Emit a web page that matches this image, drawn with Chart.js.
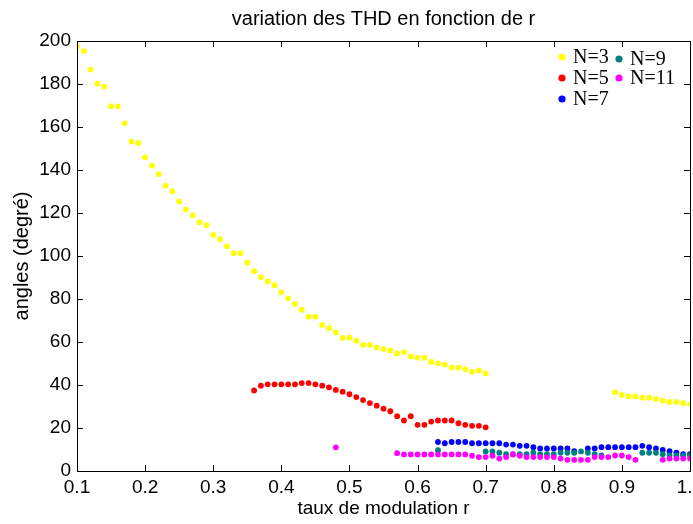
<!DOCTYPE html>
<html>
<head>
<meta charset="utf-8">
<script src="https://cdn.jsdelivr.net/npm/chart.js@4/dist/chart.umd.min.js"></script>
<style>
  html, body { margin: 0; padding: 0; background: #fff; }
  #wrap { width: 693px; height: 524px; }
</style>
</head>
<body>
<div id="wrap"><canvas id="c" width="693" height="524"></canvas></div>
<script>
// Modulation rate r and THD angle (degrees) for each N
const n3R = [0.10,0.11,0.12,0.13,0.14,0.15,0.16,0.17,0.18,0.19,0.20,0.21,0.22,0.23,0.24,0.25,0.26,0.27,0.28,0.29,
             0.30,0.31,0.32,0.33,0.34,0.35,0.36,0.37,0.38,0.39,0.40,0.41,0.42,0.43,0.44,0.45,0.46,0.47,0.48,0.49,
             0.50,0.51,0.52,0.53,0.54,0.55,0.56,0.57,0.58,0.59,0.60,0.61,0.62,0.63,0.64,0.65,0.66,0.67,0.68,0.69,0.70,
             0.89,0.90,0.91,0.92,0.93,0.94,0.95,0.96,0.97,0.98,0.99,1.00];
const n3Deg = [197.4,195.3,186.7,180.2,178.8,169.6,169.6,161.7,153.2,152.6,145.9,142.0,138.1,132.7,130.1,125.4,121.6,118.9,115.7,114.3,
               109.8,107.8,104.5,101.3,101.3,96.9,92.9,90.2,88.2,86.4,83.1,80.3,77.7,75.0,71.8,71.8,67.9,66.5,64.5,61.9,
               62.0,60.6,58.7,58.7,57.4,56.7,56.1,54.7,55.3,53.3,52.7,52.7,50.7,50.1,49.5,48.1,48.1,47.4,46.2,46.8,45.4,
               36.6,35.4,34.7,34.7,34.1,34.1,33.5,32.7,32.1,32.1,31.6,31.0];

const n5R = [0.36,0.37,0.38,0.39,0.40,0.41,0.42,0.43,0.44,0.45,0.46,0.47,0.48,0.49,0.50,0.51,0.52,0.53,
             0.54,0.55,0.56,0.57,0.58,0.59,0.60,0.61,0.62,0.63,0.64,0.65,0.66,0.67,0.68,0.69,0.70];
const n5Deg = [37.5,39.7,40.3,40.3,40.3,40.3,40.3,40.9,40.9,40.3,39.7,38.9,37.7,36.9,35.7,34.4,33.0,31.6,
               30.4,29.0,27.8,25.5,23.5,25.5,21.5,21.5,23.0,23.5,23.5,23.5,22.2,21.5,21.0,21.0,20.3];

const n7R = [0.63,0.64,0.65,0.66,0.67,0.68,0.69,0.70,0.71,0.72,0.73,0.74,0.75,0.76,0.77,0.78,0.79,0.80,0.81,0.82,0.83,
             0.85,0.86,0.87,0.88,0.89,0.90,0.91,0.92,0.93,0.94,0.95,0.96,0.97,0.98,0.99,1.00];
const n7Deg = [13.5,12.9,13.5,13.5,13.5,12.9,12.9,12.9,12.9,12.9,12.3,12.3,11.7,11.7,11.1,10.5,10.5,10.5,10.5,10.5,9.2,
               10.5,10.5,11.1,11.1,11.1,11.1,11.1,11.1,11.7,11.1,10.5,9.8,9.2,8.5,7.8,7.8];

const n9R = [0.63,0.70,0.71,0.72,0.73,0.74,0.75,0.76,0.77,0.78,0.79,0.80,0.81,0.82,0.83,0.84,0.85,0.86,0.87,
             0.93,0.94,0.95,0.96,0.97,0.98,0.99,1.00];
const n9Deg = [9.7,9.1,9.1,8.5,7.8,7.8,7.8,7.8,8.5,7.8,7.8,7.8,8.5,8.5,8.5,9.1,8.5,7.8,7.2,
               8.5,8.5,8.5,7.8,7.2,7.2,7.2,7.2];

const n11R = [0.48,0.57,0.58,0.59,0.60,0.61,0.62,0.63,0.64,0.65,0.66,0.67,0.68,0.69,0.70,0.71,0.72,0.73,0.74,0.75,
              0.76,0.77,0.78,0.79,0.80,0.81,0.82,0.83,0.84,0.85,0.86,0.87,0.88,0.89,0.90,0.91,0.92,
              0.96,0.97,0.98,0.99,1.00];
const n11Deg = [11.0,8.3,7.7,7.7,7.7,7.7,7.7,7.7,7.7,7.7,7.7,7.7,7.1,6.5,6.5,7.1,5.8,6.5,7.7,7.1,
                6.5,6.5,6.5,6.5,6.5,5.8,5.2,5.2,5.2,5.2,6.5,6.5,6.5,7.2,7.2,6.5,5.2,
                5.2,5.8,5.8,5.8,5.8];

const xTicksStep = 0.1;
const yTicksStep = 20;

function pts(rs, ds) { return rs.map((r, i) => ({ x: r, y: ds[i] })); }

const series = [
  { label: 'N=3',  r: n3R,  d: n3Deg,  color: '#ffff00', order: 4 },
  { label: 'N=5',  r: n5R,  d: n5Deg,  color: '#ff0000', order: 3 },
  { label: 'N=7',  r: n7R,  d: n7Deg,  color: '#0000ff', order: 2 },
  { label: 'N=9',  r: n9R,  d: n9Deg,  color: '#008080', order: 1 },
  { label: 'N=11', r: n11R, d: n11Deg, color: '#ff00ff', order: 0 }
];

const FONT_SANS = '"Liberation Sans", Arial, sans-serif';
const FONT_SERIF = '"Liberation Serif", "Times New Roman", serif';

// Box around the plot area with inward tick marks on all four sides
const framePlugin = {
  id: 'frame',
  afterDraw(chart) {
    const { ctx, chartArea: a, scales } = chart;
    const len = 6;
    ctx.save();
    ctx.strokeStyle = '#000';
    ctx.lineWidth = 1;
    ctx.beginPath();
    scales.x.ticks.forEach(t => {
      const px = Math.round(scales.x.getPixelForValue(t.value)) + 0.5;
      ctx.moveTo(px, a.bottom); ctx.lineTo(px, a.bottom - len);
      ctx.moveTo(px, a.top); ctx.lineTo(px, a.top + len);
    });
    scales.y.ticks.forEach(t => {
      const py = Math.round(scales.y.getPixelForValue(t.value)) + 0.5;
      ctx.moveTo(a.left, py); ctx.lineTo(a.left + len, py);
      ctx.moveTo(a.right, py); ctx.lineTo(a.right - len, py);
    });
    ctx.stroke();
    ctx.strokeRect(Math.round(a.left) + 0.5, Math.round(a.top) + 0.5,
                   Math.round(a.right - a.left), Math.round(a.bottom - a.top));
    ctx.restore();
  }
};

// Two-column legend in the upper right corner of the plot
const legendPlugin = {
  id: 'cornerLegend',
  afterDraw(chart) {
    const { ctx } = chart;
    const cols = [
      { dotX: 562, textX: 573, rows: [0, 1, 2], ys: [57, 78, 99] },
      { dotX: 619, textX: 630, rows: [3, 4], ys: [59, 78] }
    ];
    ctx.save();
    ctx.font = '20px ' + FONT_SERIF;
    ctx.textBaseline = 'middle';
    ctx.textAlign = 'left';
    cols.forEach(c => {
      c.rows.forEach((di, k) => {
        const ds = chart.data.datasets[di];
        ctx.fillStyle = ds.backgroundColor;
        ctx.beginPath();
        ctx.arc(c.dotX, c.ys[k], 3.6, 0, Math.PI * 2);
        ctx.fill();
        ctx.fillStyle = '#000';
        ctx.fillText(ds.label, c.textX, c.ys[k] + 1);
      });
    });
    ctx.restore();
  }
};

new Chart(document.getElementById('c'), {
  type: 'scatter',
  data: {
    datasets: series.map(s => ({
      label: s.label,
      data: pts(s.r, s.d),
      backgroundColor: s.color,
      borderWidth: 0,
      pointRadius: 2.9,
      pointHoverRadius: 2.9,
      order: s.order
    }))
  },
  options: {
    responsive: false,
    animation: false,
    events: [],
    layout: { padding: { left: 0, right: 3, top: 0, bottom: 0 } },
    plugins: {
      legend: { display: false },
      tooltip: { enabled: false },
      title: {
        display: true,
        fullSize: false,
        text: 'variation des THD en fonction de r',
        color: '#000',
        font: { family: FONT_SANS, size: 20, weight: 'normal' },
        padding: { top: 7, bottom: 10 }
      }
    },
    scales: {
      x: {
        type: 'linear',
        min: 0.1, max: 1,
        ticks: { stepSize: xTicksStep, color: '#000', font: { family: FONT_SANS, size: 19 }, padding: 5, maxRotation: 0 },
        grid: { display: false, drawTicks: false },
        border: { display: false },
        title: { display: true, text: 'taux de modulation r', color: '#000',
                 font: { family: FONT_SANS, size: 19 }, padding: { top: 4, bottom: 4 } },
        afterFit(scale) { scale.height = 53; scale.paddingLeft = 0; scale.paddingRight = 0; }
      },
      y: {
        type: 'linear',
        min: 0, max: 200,
        ticks: { stepSize: yTicksStep, color: '#000', font: { family: FONT_SANS, size: 19 }, padding: 6 },
        grid: { display: false, drawTicks: false },
        border: { display: false },
        title: { display: true, text: 'angles (degré)', color: '#000',
                 font: { family: FONT_SANS, size: 20 }, padding: { top: 10, bottom: 4 } },
        afterFit(scale) { scale.width = 77; scale.paddingTop = 0; scale.paddingBottom = 0; }
      }
    }
  },
  plugins: [framePlugin, legendPlugin]
});
</script>
</body>
</html>
